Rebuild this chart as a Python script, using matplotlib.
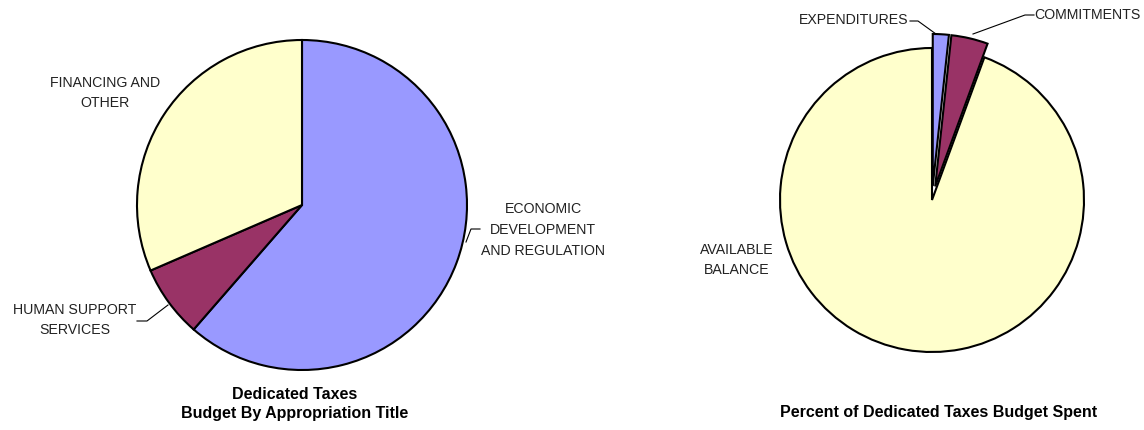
import matplotlib
matplotlib.use("Agg")
import matplotlib.pyplot as plt
from matplotlib import font_manager

# budget shares by appropriation title (percent)
approp_titles = ["ECONOMIC\nDEVELOPMENT\nAND REGULATION", "HUMAN SUPPORT\nSERVICES", "FINANCING AND\nOTHER"]
approp_share = [61.4, 7.1, 31.5]
approp_colors = ["#9999FF", "#993366", "#FFFFCC"]

# budget spent (percent)
spent_titles = ["EXPENDITURES", "COMMITMENTS", "AVAILABLE\nBALANCE"]
spent_share = [1.7, 3.9, 94.4]
spent_colors = ["#9999FF", "#993366", "#FFFFCC"]
spent_explode = [14, 14, 0]  # offset in axes units (pixels here)

names = {f.name for f in font_manager.fontManager.ttflist}
family = "Liberation Sans Narrow" if "Liberation Sans Narrow" in names else "Liberation Sans"
plt.rcParams["font.family"] = [family, "DejaVu Sans"]

W, H = 1144, 430
fig = plt.figure(figsize=(W / 100, H / 100), dpi=100)
ax = fig.add_axes([0, 0, 1, 1])

wp = dict(edgecolor="black", linewidth=1.5)
ax.pie(approp_share, colors=approp_colors, startangle=90, counterclock=False,
       center=(302, H - 205), radius=165, wedgeprops=wp, frame=True)
ax.pie(spent_share, colors=spent_colors, startangle=90, counterclock=False,
       explode=spent_explode, center=(932, H - 200), radius=152, wedgeprops=wp, frame=True)
ax.set_xlim(0, W)
ax.set_ylim(0, H)
ax.set_aspect("equal")
ax.axis("off")

fs = 10.2
txt = dict(fontsize=fs, color="#222222", ha="center", va="center", linespacing=1.6)
line = dict(color="black", lw=0.8)

# left pie labels
ax.text(543, H - 230, approp_titles[0], **txt)
ax.plot([466, 471, 480], [H - 242, H - 229, H - 229], **line)
ax.text(75, H - 320, approp_titles[1], **txt)
ax.plot([137, 147, 168], [H - 321, H - 321, H - 305], **line)
ax.text(105, H - 93, approp_titles[2], **txt)

# right pie labels
ax.text(908, H - 20, spent_titles[0], fontsize=fs, color="#222222", ha="right", va="center")
ax.plot([910, 918, 936], [H - 21, H - 21, H - 34], **line)
ax.text(1141, H - 15, spent_titles[1], fontsize=fs, color="#222222", ha="right", va="center")
ax.plot([1034, 1025, 973], [H - 15, H - 15, H - 34], **line)
ax.text(737, H - 260, spent_titles[2], **txt)

# titles
ax.text(295, H - 404, "Dedicated Taxes\nBudget By Appropriation Title", fontsize=11.5,
        fontweight="bold", ha="center", va="center", linespacing=1.4)
ax.text(939, H - 412, "Percent of Dedicated Taxes Budget Spent", fontsize=11.5,
        fontweight="bold", ha="center", va="center")

fig.savefig("out.png", dpi=100)
